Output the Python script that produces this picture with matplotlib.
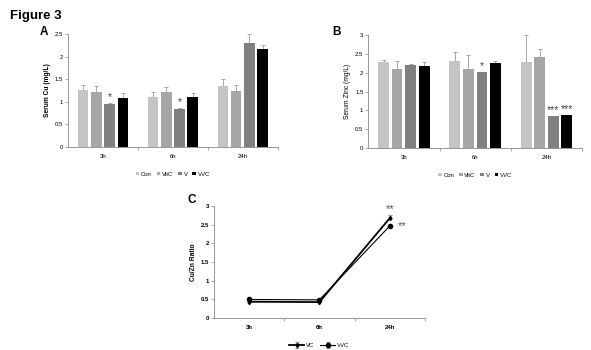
import matplotlib
matplotlib.use('Agg')
import matplotlib.pyplot as plt
import numpy as np

plt.rcParams['font.family'] = ['Liberation Sans', 'DejaVu Sans']

times = ['3h', '6h', '24h']
groups = ['Con', 'VitC', 'V', 'VVC']
colors = ['#c4c4c4', '#a6a6a6', '#808080', '#000000']

# serum Cu (mg/L), rows = groups, cols = times
cu = [[1.26, 1.10, 1.34],
      [1.21, 1.21, 1.24],
      [0.96, 0.85, 2.29],
      [1.09, 1.11, 2.17]]
cu_err = [[0.11, 0.12, 0.16],
          [0.14, 0.11, 0.13],
          [0.02, 0.02, 0.20],
          [0.11, 0.08, 0.08]]
cu_stars = [['', '', ''], ['', '', ''], ['*', '*', ''], ['', '', '']]

# serum zinc (mg/L)
zn = [[2.28, 2.32, 2.29],
      [2.10, 2.09, 2.42],
      [2.20, 2.01, 0.84],
      [2.17, 2.27, 0.87]]
zn_err = [[0.05, 0.24, 0.71],
          [0.21, 0.38, 0.22],
          [0.03, 0.02, 0.02],
          [0.11, 0.05, 0.02]]
zn_stars = [['', '', ''], ['', '', ''], ['', '*', '***'], ['', '', '***']]

# Cu/Zn ratio
ratio_vc = [0.44, 0.43, 2.68]
ratio_vc_err = [0.01, 0.01, 0.07]
ratio_vvc = [0.50, 0.49, 2.47]
ratio_vvc_err = [0.01, 0.01, 0.03]

fig = plt.figure(figsize=(5.91, 3.5), dpi=100)
fig.text(0.017, 0.955, 'Figure 3', fontsize=9.5, fontweight='bold', va='center')


def style_ax(ax):
    for s in ['top', 'right']:
        ax.spines[s].set_visible(False)
    for s in ['left', 'bottom']:
        ax.spines[s].set_color('#888888')
        ax.spines[s].set_linewidth(0.6)
    ax.tick_params(axis='y', labelsize=4.3, length=2, width=0.5, color='#888888', pad=1.5)
    ax.tick_params(axis='x', which='major', length=0, labelsize=4.3, pad=5)
    ax.tick_params(axis='x', which='minor', length=2, width=0.5, color='#888888')


def bar_panel(ax, vals, errs, stars, ylim, yticks, ylabel):
    w = 0.19
    x = np.arange(len(times))
    for i, g in enumerate(groups):
        xs = x + (i - 1.5) * w
        ax.bar(xs, vals[i], width=w * 0.8, color=colors[i], label=g, zorder=2)
        ax.errorbar(xs, vals[i], yerr=[np.zeros(3), errs[i]], fmt='none',
                    ecolor='#999999', elinewidth=0.6, capsize=1.5, capthick=0.6, zorder=1)
        for j in range(3):
            if stars[i][j]:
                ax.text(xs[j], vals[i][j] + errs[i][j] + ylim[1] * 0.005, stars[i][j],
                        ha='center', va='bottom', fontsize=7.5, color='#444444')
    ax.set_xlim(-0.5, 2.5)
    ax.set_ylim(*ylim)
    ax.set_yticks(yticks)
    ax.set_yticklabels([('%g' % t) for t in yticks])
    ax.set_xticks(x)
    ax.set_xticklabels(times)
    ax.set_xticks([0.5, 1.5, 2.5], minor=True)
    ax.set_ylabel(ylabel, fontsize=4.8, labelpad=3)
    style_ax(ax)
    ax.legend(loc='upper center', bbox_to_anchor=(0.5, -0.17), ncol=4, fontsize=4.3,
              frameon=False, handlelength=0.6, handleheight=0.6, handletextpad=0.3,
              columnspacing=0.8)


axA = fig.add_axes([0.115, 0.58, 0.355, 0.323])
bar_panel(axA, cu, cu_err, cu_stars, (0, 2.5), [0, 0.5, 1, 1.5, 2, 2.5], 'Serum Cu (mg/L)')
axA.yaxis.label.set_fontweight('bold')
fig.text(0.067, 0.908, 'A', fontsize=8.5, fontweight='bold', va='center')

axB = fig.add_axes([0.623, 0.577, 0.362, 0.323])
bar_panel(axB, zn, zn_err, zn_stars, (0, 3), [0, 0.5, 1, 1.5, 2, 2.5, 3], 'Serum Zinc (mg/L)')
fig.text(0.563, 0.908, 'B', fontsize=8.5, fontweight='bold', va='center')

axC = fig.add_axes([0.362, 0.091, 0.357, 0.32])
xc = np.arange(len(times))
axC.errorbar(xc, ratio_vc, yerr=[np.zeros(3), ratio_vc_err], color='black', lw=1.3,
             marker='d', ms=2.2, ecolor='#999999', elinewidth=0.6, capsize=1.5, label='VC')
axC.errorbar(xc, ratio_vvc, yerr=[np.zeros(3), ratio_vvc_err], color='black', lw=0.8,
             marker='o', ms=3, ecolor='#999999', elinewidth=0.6, capsize=1.5, label='VVC')
axC.text(2.0, 2.8, '**', ha='center', va='bottom', fontsize=8, color='#555555')
axC.text(2.12, 2.47, '**', ha='left', va='center', fontsize=8, color='#555555')
axC.set_xlim(-0.5, 2.5)
axC.set_ylim(0, 3)
ct = [0, 0.5, 1, 1.5, 2, 2.5, 3]
axC.set_yticks(ct)
axC.set_yticklabels([('%g' % t) for t in ct], fontweight='bold')
axC.set_xticks(xc)
axC.set_xticklabels(times, fontweight='bold')
axC.set_xticks([0.5, 1.5, 2.5], minor=True)
axC.set_ylabel('Cu/Zn Ratio', fontsize=4.8, fontweight='bold', labelpad=3)
style_ax(axC)
axC.legend(loc='upper center', bbox_to_anchor=(0.5, -0.17), ncol=2, fontsize=4.3,
           frameon=False, handlelength=2.5, handletextpad=0.3, columnspacing=1.0)
fig.text(0.318, 0.428, 'C', fontsize=8.5, fontweight='bold', va='center')

fig.savefig('out.png', dpi=100)
